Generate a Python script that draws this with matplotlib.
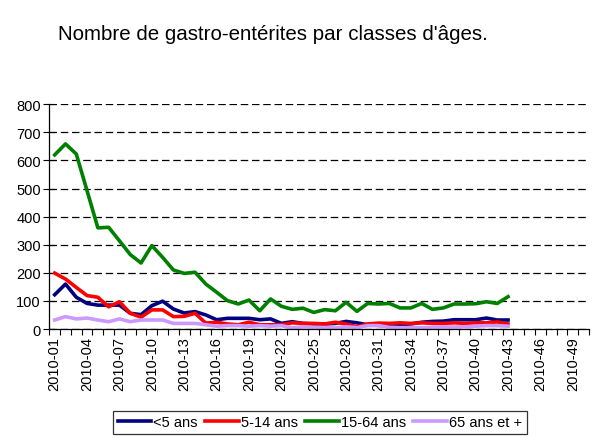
import matplotlib
matplotlib.use('Agg')
import matplotlib.pyplot as plt

plt.rcParams['font.family'] = ['Liberation Sans', 'DejaVu Sans']

# semaines 2010-01 .. 2010-50, donnees jusqu'a 2010-43
weeks = ['2010-%02d' % i for i in range(1, 51)]
moins5 = [122,160,113,91,85,85,85,56,51,83,99,71,57,62,50,33,38,38,38,33,36,20,26,
          20,18,18,20,27,22,15,13,10,15,18,24,27,28,33,33,33,39,32,32]
ans5_14 = [199,178,148,119,113,79,97,56,42,68,68,44,45,56,21,24,18,15,24,15,15,15,22,
           20,20,18,24,18,8,18,21,20,22,20,22,20,20,22,20,22,22,25,18]
ans15_64 = [620,659,623,492,360,362,314,265,235,297,255,210,198,202,160,131,101,89,103,
            65,107,81,70,74,59,69,65,95,63,91,89,91,75,75,91,70,75,89,89,90,97,91,115]
ans65 = [32,44,36,39,32,26,36,26,32,32,32,20,20,20,15,10,12,12,10,12,10,12,4,8,6,5,4,
         8,5,12,12,6,5,5,4,6,7,7,8,10,12,12,10]

series = [('<5 ans', moins5, '#000080'),
          ('5-14 ans', ans5_14, '#FF0000'),
          ('15-64 ans', ans15_64, '#008000'),
          ('65 ans et +', ans65, '#CC99FF')]

fig = plt.figure(figsize=(5.96, 4.39), dpi=100)
ax = fig.add_axes([49.3/596, 1-330/439, (589-49.3)/596, (330-105.3)/439])

for label, vals, col in series:
	ax.plot(range(len(vals)), vals, color=col, lw=2.6, label=label, solid_joinstyle='round')

ax.set_xlim(-0.5, len(weeks)-0.5)
ax.set_ylim(0, 800)
ax.set_yticks(range(0, 801, 100))
ax.yaxis.grid(True, color='black', linestyle=(0, (6, 3)), lw=0.9)
ax.set_axisbelow(True)

ax.set_xticks([i-0.5 for i in range(len(weeks)+1)])
ax.set_xticklabels([])
ax.set_xticks(range(0, len(weeks), 3), minor=True)
ax.set_xticklabels(weeks[::3], minor=True, rotation=90, fontsize=10.5)
ax.tick_params(axis='x', which='major', direction='out', length=4, width=0.8)
ax.tick_params(axis='x', which='minor', length=0, pad=5)
ax.tick_params(axis='y', direction='inout', length=8, width=0.8, labelsize=10.5, pad=2)

for s in ['top', 'right']:
	ax.spines[s].set_visible(False)
ax.spines['left'].set_linewidth(0.9)
ax.spines['bottom'].set_linewidth(0.9)

fig.text(58/596, 1-35/439, "Nombre de gastro-entérites par classes d'âges.",
         fontsize=14.8, va='center', ha='left')

leg = fig.legend(loc='upper center', bbox_to_anchor=(320/596, 1-412/439), ncol=4,
                 fontsize=10.5, frameon=True, fancybox=False, edgecolor='black',
                 handlelength=2.3, handletextpad=0.15, columnspacing=0.5,
                 borderpad=0.3, borderaxespad=0)
leg.get_frame().set_linewidth(0.9)

fig.savefig('out.png', dpi=100)
